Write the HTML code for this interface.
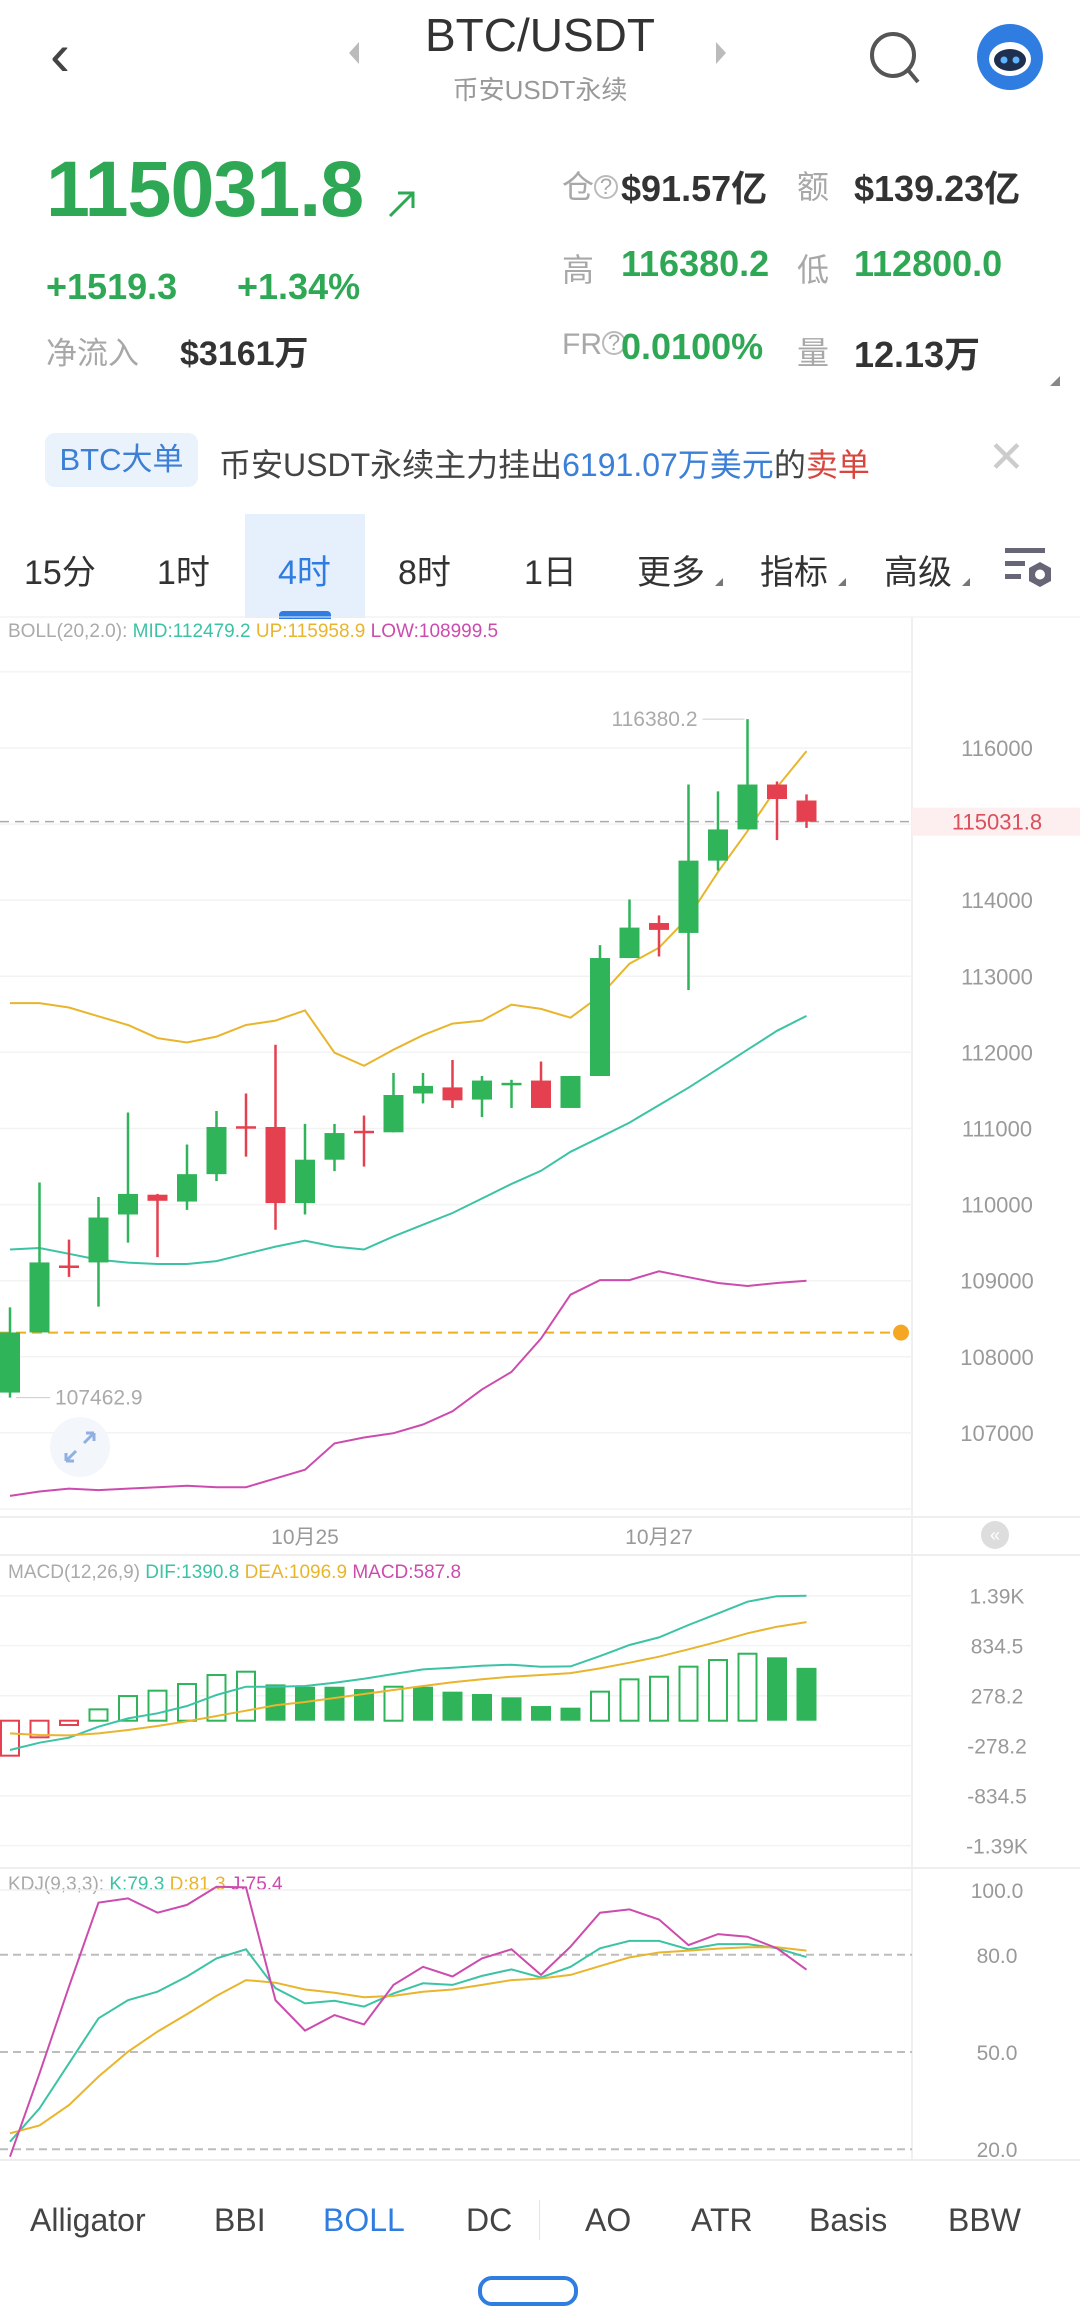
<!DOCTYPE html>
<html><head><meta charset="utf-8"><style>
*{margin:0;padding:0;box-sizing:border-box}
body{width:1080px;height:2284px;background:#fff;position:relative;overflow:hidden;font-family:"Liberation Sans","Noto Sans CJK SC",sans-serif;color:#222}
.a{position:absolute;white-space:nowrap}
.g{color:#2fa855}.gr{color:#a8a8a8}.b{font-weight:bold}
</style></head><body>
<div class="a" style="left:50px;top:20px;font-size:60px;color:#444;font-weight:300">&#x2039;</div>
<div class="a" style="left:349px;top:42px;width:0;height:0;border-top:11px solid transparent;border-bottom:11px solid transparent;border-right:10px solid #bbb"></div>
<div class="a" style="left:0;width:1080px;text-align:center;top:8px;font-size:46px;color:#333">BTC/USDT</div>
<div class="a" style="left:716px;top:42px;width:0;height:0;border-top:11px solid transparent;border-bottom:11px solid transparent;border-left:10px solid #bbb"></div>
<div class="a" style="left:0;width:1080px;text-align:center;top:70px;font-size:26px;color:#999">币安USDT永续</div>
<svg class="a" style="left:866px;top:28px" width="60" height="60"><circle cx="27" cy="27" r="21" fill="none" stroke="#555" stroke-width="4"/><line x1="42" y1="42" x2="52" y2="54" stroke="#555" stroke-width="4"/></svg>
<svg class="a" style="left:975px;top:22px" width="70" height="70"><circle cx="35" cy="35" r="33" fill="#2f7de1"/><ellipse cx="35" cy="37" rx="21" ry="17" fill="#fff"/><ellipse cx="35" cy="38" rx="16" ry="11" fill="#1d3050"/><circle cx="29" cy="38" r="3.5" fill="#5fb3ff"/><circle cx="41" cy="38" r="3.5" fill="#5fb3ff"/></svg>

<div class="a g b" style="left:46px;top:143px;font-size:79px;letter-spacing:-1px">115031.8</div>
<svg class="a" style="left:386px;top:188px" width="32" height="32"><path d="M4 28 L27 5 M12 5 H27 V20" stroke="#2fa855" stroke-width="3" fill="none"/></svg>
<div class="a g b" style="left:46px;top:266px;font-size:36px">+1519.3</div>
<div class="a g b" style="left:237px;top:266px;font-size:36px">+1.34%</div>
<div class="a gr" style="left:46px;top:328px;font-size:31px">净流入</div>
<div class="a b" style="left:180px;top:326px;font-size:34px;color:#333">$3161万</div>

<div class="a gr" style="left:562px;top:162px;font-size:32px">仓<span style="font-size:22px;border:2px solid #bbb;border-radius:50%;display:inline-block;width:24px;height:24px;line-height:20px;text-align:center;vertical-align:4px">?</span></div>
<div class="a b" style="left:621px;top:160px;font-size:36px;color:#333">$91.57亿</div>
<div class="a gr" style="left:797px;top:162px;font-size:32px">额</div>
<div class="a b" style="left:854px;top:160px;font-size:36px;color:#333">$139.23亿</div>
<div class="a gr" style="left:562px;top:245px;font-size:32px">高</div>
<div class="a g b" style="left:621px;top:243px;font-size:36px">116380.2</div>
<div class="a gr" style="left:797px;top:245px;font-size:32px">低</div>
<div class="a g b" style="left:854px;top:243px;font-size:36px">112800.0</div>
<div class="a gr" style="left:562px;top:328px;font-size:30px">FR<span style="font-size:22px;border:2px solid #bbb;border-radius:50%;display:inline-block;width:24px;height:24px;line-height:20px;text-align:center;vertical-align:4px">?</span></div>
<div class="a g b" style="left:621px;top:326px;font-size:36px">0.0100%</div>
<div class="a gr" style="left:797px;top:328px;font-size:32px">量</div>
<div class="a b" style="left:854px;top:326px;font-size:36px;color:#333">12.13万</div>
<div class="a" style="left:1050px;top:376px;width:0;height:0;border-left:10px solid transparent;border-bottom:10px solid #888"></div>

<div class="a" style="left:45px;top:433px;width:153px;height:54px;background:#eaf2fc;border-radius:10px;color:#3b7fd6;font-size:31px;line-height:54px;text-align:center">BTC大单</div>
<div class="a" style="left:219px;top:440px;font-size:32px;color:#444">币安USDT永续主力挂出<span style="color:#3b7fd6">6191.07万美元</span>的<span style="color:#d9463e">卖单</span></div>
<div class="a" style="left:988px;top:432px;font-size:44px;color:#ccc;font-weight:200">✕</div>

<div class="a" style="left:245px;top:514px;width:120px;height:104px;background:#e6effc"></div>
<div class="a" style="left:279px;top:611px;width:52px;height:8px;background:#2f7de1;border-radius:4px 4px 0 0"></div>
<div class="a" style="left:24px;top:545px;font-size:34px;color:#333">15分</div>
<div class="a" style="left:157px;top:545px;font-size:34px;color:#333">1时</div>
<div class="a" style="left:278px;top:545px;font-size:34px;color:#2f7de1">4时</div>
<div class="a" style="left:398px;top:545px;font-size:34px;color:#333">8时</div>
<div class="a" style="left:524px;top:545px;font-size:34px;color:#333">1日</div>
<div class="a" style="left:637px;top:545px;font-size:34px;color:#333">更多</div>
<div class="a" style="left:760px;top:545px;font-size:34px;color:#333">指标</div>
<div class="a" style="left:884px;top:545px;font-size:34px;color:#333">高级</div>
<div class="a" style="left:715px;top:578px;border-left:8px solid transparent;border-bottom:8px solid #777"></div>
<div class="a" style="left:838px;top:578px;border-left:8px solid transparent;border-bottom:8px solid #777"></div>
<div class="a" style="left:962px;top:578px;border-left:8px solid transparent;border-bottom:8px solid #777"></div>
<svg class="a" style="left:1005px;top:548px" width="50" height="42"><rect x="0" y="0" width="40" height="5" fill="#667"/><rect x="0" y="13" width="20" height="5" fill="#667"/><rect x="0" y="26" width="16" height="5" fill="#667"/><polygon points="35,14 46,20 46,33 35,39 24,33 24,20" fill="#667"/><circle cx="35" cy="26.5" r="5" fill="#fff"/></svg>

<svg id="chart" class="a" style="left:0;top:0" width="1080" height="2284"></svg>

<div class="a" style="left:30px;top:2202px;font-size:32px;color:#444">Alligator</div>
<div class="a" style="left:214px;top:2202px;font-size:32px;color:#444">BBI</div>
<div class="a" style="left:323px;top:2202px;font-size:32px;color:#2f7de1">BOLL</div>
<div class="a" style="left:466px;top:2202px;font-size:32px;color:#444">DC</div>
<div class="a" style="left:539px;top:2200px;width:1px;height:40px;background:#e4e4e4"></div>
<div class="a" style="left:585px;top:2202px;font-size:32px;color:#444">AO</div>
<div class="a" style="left:691px;top:2202px;font-size:32px;color:#444">ATR</div>
<div class="a" style="left:809px;top:2202px;font-size:32px;color:#444">Basis</div>
<div class="a" style="left:948px;top:2202px;font-size:32px;color:#444">BBW</div>
<div class="a" style="left:478px;top:2276px;width:100px;height:30px;border:4px solid #2f7de1;border-radius:14px"></div>

<script>
const candleOpen=[107530,108320,109200,109240,109870,110130,110040,110400,111030,111020,110020,110590,110970,110950,111460,111540,111380,111580,111630,111270,111690,113240,113700,113570,114520,114930,115520,115310];
const candleClose=[108320,109240,109180,109830,110140,110050,110400,111020,111000,110020,110590,110940,110950,111440,111560,111370,111630,111600,111270,111690,113240,113640,113610,114520,114930,115520,115330,115031.8];
const candleHigh=[108650,110290,109540,110100,111210,110140,110790,111230,111460,112100,111060,111060,111170,111730,111730,111900,111690,111640,111880,111690,113410,114010,113800,115520,115430,116380.2,115560,115390];
const candleLow=[107462.9,108320,109050,108660,109500,109310,109930,110310,110630,109670,109870,110440,110500,110950,111330,111270,111150,111270,111270,111270,111690,113240,113260,112820,114390,114930,114790,114950];
const bollUp=[112648,112648,112590,112475,112360,112188,112130,112207,112360,112418,112552,111996,111824,112035,112226,112379,112418,112628,112571,112456,112743,113165,113376,113778,114372,114908,115483,115958.9];
const bollMid=[109410,109430,109353,109276,109238,109219,109219,109257,109353,109448,109525,109448,109410,109582,109736,109889,110080,110272,110444,110694,110885,111077,111307,111536,111785,112035,112284,112479.2];
const bollLow=[106172,106230,106268,106249,106268,106287,106306,106287,106287,106402,106517,106862,106939,106996,107111,107284,107571,107801,108241,108816,109008,109008,109123,109046,108970,108931,108970,108999.5];
const priceTicks=[116000,115000,114000,113000,112000,111000,110000,109000,108000,107000];
const priceTickLabels=["116000","","114000","113000","112000","111000","110000","109000","108000","107000"];
const dateLabels=["10月25","10月27"];
const dateIndex=[10.0,22.0];
const macdHist=[-389,-185,-48,126,274,334,408,508,545,404,378,378,352,378,378,323,297,260,163,145,323,460,489,601,675,745,705,587.8];
const macdDif=[-326,-245,-189,-67,26,82,163,286,378,378,386,423,467,519,571,590,612,623,601,604,719,842,927,1064,1194,1324,1385,1390.8];
const macdDea=[-141,-159,-163,-141,-104,-59,-7,52,111,171,208,252,297,341,386,427,460,489,508,530,582,645,712,794,879,972,1046,1096.9];
const macdTicks=[1390,834.5,278.2,-278.2,-834.5,-1390];
const macdTickLabels=["1.39K","834.5","278.2","-278.2","-834.5","-1.39K"];
const kdjK=[22.3,32.6,46.5,60.4,66.0,68.6,73.3,78.9,81.7,69.7,65.0,65.8,64.0,68.1,71.2,70.7,73.5,75.5,73.0,76.3,82.0,84.3,84.3,81.7,83.3,83.3,82.0,79.3];
const kdjD=[24.9,27.3,33.6,42.4,50.1,56.3,61.7,67.3,72.2,71.4,69.3,68.3,66.9,67.3,68.6,69.3,70.7,72.2,72.7,73.8,76.5,79.2,80.7,81.3,81.9,82.3,82.3,81.3];
const kdjJ=[17.7,43.4,70.2,96.1,97.4,93.0,95.4,101.0,100.8,66.0,56.6,61.4,58.5,70.7,76.3,73.3,78.9,81.7,73.8,82.5,93.0,94.0,90.9,83.0,86.4,85.6,82.0,75.4];
const kdjTicks=[100,80,50,20];
const kdjTickLabels=["100.0","80.0","50.0","20.0"];

const NS="http://www.w3.org/2000/svg";
const svg=document.getElementById('chart');
const GREEN="#2fb45a",RED="#e5404f",TEAL="#3cc3a5",YEL="#e8b52c",MAG="#cc4cae";
function mk(tag,attrs,parent){const e=document.createElementNS(NS,tag);for(const k in attrs)e.setAttribute(k,attrs[k]);(parent||svg).appendChild(e);return e;}
const xS=i=>10+i*29.5;
const yP=p=>748+(116000-p)*0.0761;
const yM=v=>1720.7-v*0.0899;
const yK=v=>1890+(100-v)*3.24;
function linePath(arr,yf){return arr.map((v,i)=>(i?'L':'M')+xS(i).toFixed(1)+' '+yf(v).toFixed(1)).join(' ');}
function txt(x,y,s,attrs){const t=mk('text',Object.assign({x:x,y:y,'font-size':20,fill:'#999','font-family':'Liberation Sans, Noto Sans CJK SC, sans-serif'},attrs||{}));t.textContent=s;return t;}

let e;
e=mk('line',{x1:0,y1:617,x2:1080,y2:617,stroke:'#eee'});

e=mk('line',{x1:912,y1:617,x2:912,y2:2160,stroke:'#f0f0f0','stroke-width':2});

[1517,1555,1868,2160].forEach(y=>{
  const l=mk('line',{x1:0,y1:y,x2:1080,y2:y,stroke:'#eee','stroke-width':2});
  
  
});

for(let p=117000;p>=106000;p-=1000){
  const l=mk('line',{x1:0,y1:yP(p),x2:912,y2:yP(p),stroke:'#f3f3f3','stroke-width':1.5});
  
  
}
priceTicks.forEach((p,i)=>{
  if(!priceTickLabels[i])return;
  const t=txt(997,yP(p)+8,priceTickLabels[i],{'text-anchor':'middle','font-size':22,fill:'#9a9a9a'});
  
  
});
e=txt(8,637,'BOLL(20,2.0): ',{'font-size':19,fill:'#aaa'});

[['MID:112479.2 ',TEAL],['UP:115958.9 ',YEL],['LOW:108999.5',MAG]].forEach(a=>{const s=mk('tspan',{fill:a[1]},e);s.textContent=a[0];});

const lastPrice=candleClose[candleClose.length-1];
e=mk('line',{x1:0,y1:yP(lastPrice),x2:912,y2:yP(lastPrice),stroke:'#aaa','stroke-dasharray':'9 6','stroke-width':1.5});

e=mk('rect',{x:912,y:yP(lastPrice)-14,width:168,height:28,fill:'#fdeef0'});

e=txt(997,yP(lastPrice)+8,lastPrice.toFixed(1),{'text-anchor':'middle','font-size':22,fill:'#d9505c'});

const alertPrice=108318;
e=mk('line',{x1:0,y1:yP(alertPrice),x2:900,y2:yP(alertPrice),stroke:'#f0ae1c','stroke-dasharray':'10 6','stroke-width':2});

e=mk('circle',{cx:901,cy:yP(alertPrice),r:8,fill:'#f5a623'});


[[bollUp,YEL,'boll-upper-line'],[bollMid,TEAL,'boll-mid-line'],[bollLow,MAG,'boll-lower-line']].forEach(a=>{
  const p=mk('path',{d:linePath(a[0],yP),fill:'none',stroke:a[1],'stroke-width':2});
  
  
});
candleOpen.forEach((o,i)=>{
  const c=candleClose[i],up=c>=o,col=up?GREEN:RED,x=xS(i);
  const w=mk('line',{x1:x,y1:yP(candleHigh[i]),x2:x,y2:yP(candleLow[i]),stroke:col,'stroke-width':2.5});
  
  
  const top=yP(Math.max(o,c)),h=Math.max(2.5,yP(Math.min(o,c))-top);
  const r=mk('rect',{x:x-10,y:top,width:20,height:h,fill:col});
  
  
});
let hi=candleHigh.indexOf(Math.max(...candleHigh)),lo=candleLow.indexOf(Math.min(...candleLow));
e=mk('line',{x1:xS(hi)-45,y1:yP(candleHigh[hi]),x2:xS(hi)-3,y2:yP(candleHigh[hi]),stroke:'#ccc'});

e=txt(xS(hi)-50,yP(candleHigh[hi])+7,candleHigh[hi].toFixed(1),{'text-anchor':'end','font-size':21,fill:'#aaa'});

e=mk('line',{x1:xS(lo)+6,y1:yP(candleLow[lo]),x2:xS(lo)+40,y2:yP(candleLow[lo]),stroke:'#ccc'});

e=txt(xS(lo)+45,yP(candleLow[lo])+7,candleLow[lo].toFixed(1),{'font-size':21,fill:'#aaa'});

const eg=mk('g',{});


mk('circle',{cx:80,cy:1447,r:30,fill:'#f3f6fb'},eg);
mk('path',{d:'M66 1461 L76 1451 M66 1461 V1453 M66 1461 H74 M94 1433 L84 1443 M94 1433 V1441 M94 1433 H86',stroke:'#8fb0e0','stroke-width':3,fill:'none'},eg);
dateLabels.forEach((d,i)=>{
  const t=txt(xS(dateIndex[i]),1544,d,{'text-anchor':'middle','font-size':21,fill:'#999'});
  
  
});
e=mk('circle',{cx:995,cy:1535,r:14,fill:'#ddd'});

e=txt(995,1541,'«',{'text-anchor':'middle','font-size':18,fill:'#fff'});


e=txt(8,1578,'MACD(12,26,9) ',{'font-size':19,fill:'#aaa'});

[['DIF:1390.8 ',TEAL],['DEA:1096.9 ',YEL],['MACD:587.8',MAG]].forEach(a=>{const s=mk('tspan',{fill:a[1]},e);s.textContent=a[0];});
macdTicks.forEach((v,i)=>{
  const l=mk('line',{x1:0,y1:yM(v),x2:912,y2:yM(v),stroke:'#f3f3f3','stroke-width':1.5});
  
  
  const t=txt(997,yM(v)+8,macdTickLabels[i],{'text-anchor':'middle','font-size':21,fill:'#999'});
  
  
});
macdHist.forEach((v,i)=>{
  const col=v>=0?GREEN:RED,hollow=(i===0||v>macdHist[i-1]);
  const y0=yM(Math.max(v,0)),h=Math.max(2,Math.abs(yM(v)-yM(0)));
  const r=mk('rect',hollow?{x:xS(i)-9,y:y0,width:18,height:h,fill:'#fff',stroke:col,'stroke-width':2}:{x:xS(i)-10,y:y0,width:20,height:h,fill:col});
  
  
});
[[macdDif,TEAL,'macd-dif-line'],[macdDea,YEL,'macd-dea-line']].forEach(a=>{
  const p=mk('path',{d:linePath(a[0],yM),fill:'none',stroke:a[1],'stroke-width':2});
  
  
});

e=txt(8,1890,'KDJ(9,3,3): ',{'font-size':19,fill:'#aaa'});

[['K:79.3 ',TEAL],['D:81.3 ',YEL],['J:75.4',MAG]].forEach(a=>{const s=mk('tspan',{fill:a[1]},e);s.textContent=a[0];});
kdjTicks.forEach((v,i)=>{
  const l=mk('line',v===100?{x1:0,y1:yK(v),x2:912,y2:yK(v),stroke:'#f0f0f0','stroke-width':1.5}:{x1:0,y1:yK(v),x2:912,y2:yK(v),stroke:'#bdbdbd','stroke-width':2,'stroke-dasharray':'8 5'});
  
  
  const t=txt(997,yK(v)+8,kdjTickLabels[i],{'text-anchor':'middle','font-size':21,fill:'#999'});
  
  
});
const clip=mk('clipPath',{id:'kclip'});
mk('rect',{x:0,y:1870,width:912,height:289},clip);
[[kdjK,TEAL,'kdj-k-line'],[kdjD,YEL,'kdj-d-line'],[kdjJ,MAG,'kdj-j-line']].forEach(a=>{
  const p=mk('path',{d:linePath(a[0],yK),fill:'none',stroke:a[1],'stroke-width':2,'clip-path':'url(#kclip)'});
  
  
});
</script>
</body></html>
